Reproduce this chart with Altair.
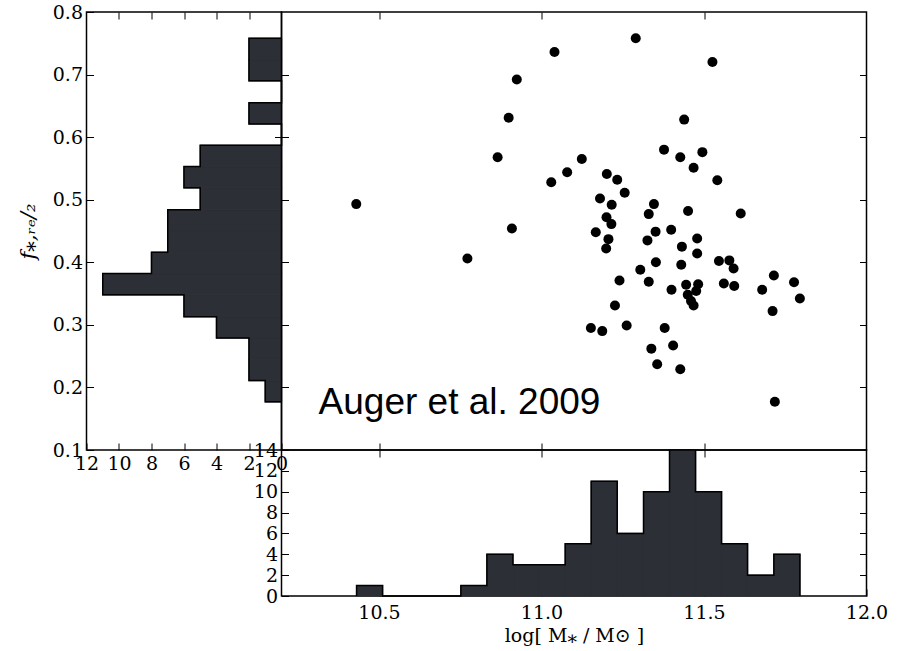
import altair as alt
import pandas as pd

# ---------------- data ----------------
mass = [10.430, 10.772, 10.909, 10.865, 10.899, 10.924, 11.040, 11.290, 11.526, 11.439,
        11.030, 11.079, 11.124, 11.201, 11.233, 11.256, 11.180, 11.216, 11.200, 11.215,
        11.167, 11.206, 11.199, 11.377, 11.427, 11.495, 11.468, 11.541, 11.346, 11.330,
        11.451, 11.613, 11.351, 11.399, 11.326, 11.479, 11.432, 11.479, 11.352, 11.430,
        11.304, 11.546, 11.578, 11.591, 11.240, 11.330, 11.400, 11.445, 11.482, 11.476,
        11.561, 11.593, 11.450, 11.460, 11.468, 11.679, 11.715, 11.777, 11.795, 11.711,
        11.226, 11.152, 11.187, 11.262, 11.379, 11.338, 11.405, 11.356, 11.427, 11.718]
frac = [0.493, 0.406, 0.454, 0.568, 0.631, 0.692, 0.736, 0.758, 0.720, 0.628,
        0.528, 0.544, 0.565, 0.541, 0.532, 0.511, 0.502, 0.492, 0.472, 0.461,
        0.448, 0.437, 0.422, 0.580, 0.568, 0.576, 0.551, 0.531, 0.493, 0.477,
        0.482, 0.478, 0.449, 0.452, 0.435, 0.438, 0.425, 0.414, 0.400, 0.396,
        0.388, 0.402, 0.403, 0.390, 0.371, 0.369, 0.356, 0.364, 0.365, 0.354,
        0.366, 0.362, 0.348, 0.338, 0.331, 0.356, 0.379, 0.368, 0.342, 0.322,
        0.331, 0.295, 0.290, 0.299, 0.295, 0.262, 0.267, 0.237, 0.229, 0.177]

mass_edges = [10.431, 10.511, 10.591, 10.672, 10.752, 10.832, 10.912, 10.993, 11.073,
              11.153, 11.233, 11.314, 11.394, 11.474, 11.554, 11.634, 11.715, 11.795]
mass_counts = [1, 0, 0, 0, 1, 4, 3, 3, 5, 11, 6, 10, 14, 10, 5, 2, 4]

frac_edges = [0.177, 0.211, 0.245, 0.279, 0.313, 0.348, 0.382, 0.416, 0.450,
              0.484, 0.519, 0.553, 0.587, 0.621, 0.655, 0.690, 0.724, 0.758]
frac_counts = [1, 2, 2, 4, 6, 11, 8, 7, 7, 5, 6, 5, 0, 2, 0, 2, 2]

mass_ticks = [10.5, 11.0, 11.5, 12.0]
frac_ticks = [0.1, 0.2, 0.3, 0.4, 0.5, 0.6, 0.7, 0.8]
count_ticks_left = [0, 2, 4, 6, 8, 10, 12]
count_ticks_bottom = [0, 2, 4, 6, 8, 10, 12, 14]

label_text = "Auger et al. 2009"
x_title = "log[ M⁎ / M⊙ ]"
y_title = "f⁎,ᵣₑ/₂"

FILL = "#2c2f35"
SERIF = "DejaVu Serif"

# ---------------- tables ----------------
scatter_df = pd.DataFrame({"mass": mass, "frac": frac})
label_df = pd.DataFrame({"mass": [10.314], "frac": [0.1575], "t": [label_text]})

mhist = pd.DataFrame({"lo": mass_edges[:-1], "hi": mass_edges[1:], "c": mass_counts,
                      "zero": [0] * len(mass_counts)})
fhist = pd.DataFrame({"lo": frac_edges[:-1], "hi": frac_edges[1:], "c": frac_counts,
                      "zero": [0] * len(frac_counts)})

# outlines (stepfilled style) built from edges and counts
mo_x, mo_y = [mass_edges[0]], [0]
for i, c in enumerate(mass_counts):
    mo_x += [mass_edges[i], mass_edges[i + 1]]
    mo_y += [c, c]
mo_x.append(mass_edges[-1]); mo_y.append(0)
m_outline = pd.DataFrame({"x": mo_x, "c": mo_y, "i": list(range(len(mo_x)))})

fo_y, fo_c = [frac_edges[0]], [0]
for i, c in enumerate(frac_counts):
    fo_y += [frac_edges[i], frac_edges[i + 1]]
    fo_c += [c, c]
fo_y.append(frac_edges[-1]); fo_c.append(0)
f_outline = pd.DataFrame({"y": fo_y, "c": fo_c, "i": list(range(len(fo_y)))})


def ax(orient, labels=False, values=None, fmt=None, title=None, **extra):
    kw = dict(orient=orient, labels=labels, domain=False, grid=False, ticks=True,
              tickColor="black", tickWidth=1, tickSize=7, offset=-7,
              labelFont=SERIF, labelFontSize=19, labelColor="black",
              labelFlush=False, labelOverlap=False, labelPadding=5,
              titleFont=SERIF, titleFontWeight="normal", titleColor="black",
              title=title)
    if values is not None:
        kw["values"] = values
    if fmt is not None:
        kw["format"] = fmt
    kw.update(extra)
    return alt.Axis(**kw)


xs_mass = alt.Scale(domain=[10.2, 12.0], nice=False, zero=False)
ys_frac = alt.Scale(domain=[0.1, 0.8], nice=False, zero=False)
cs_left = alt.Scale(domain=[0, 12], nice=False, reverse=True)
cs_bottom = alt.Scale(domain=[0, 14], nice=False)

W_MAIN, H_MAIN, W_SIDE, H_BOT = 585, 438, 195, 146

# ---------------- scatter panel ----------------
pts = alt.Chart(scatter_df).mark_circle(size=100, color="black", opacity=1).encode(
    x=alt.X("mass:Q", scale=xs_mass, axis=ax("bottom", values=[10.5, 11.0, 11.5])),
    y=alt.Y("frac:Q", scale=ys_frac, axis=ax("left", values=frac_ticks[1:-1])),
)
pts2 = alt.Chart(scatter_df).mark_circle(opacity=0).encode(
    x=alt.X("mass:Q", scale=xs_mass, axis=ax("top", values=[10.5, 11.0, 11.5])),
    y=alt.Y("frac:Q", scale=ys_frac, axis=ax("right", values=frac_ticks[1:-1])),
)
txt = alt.Chart(label_df).mark_text(align="left", baseline="alphabetic",
                                    font="Liberation Sans", fontSize=37,
                                    color="black").encode(
    x=alt.X("mass:Q", scale=xs_mass, axis=None),
    y=alt.Y("frac:Q", scale=ys_frac, axis=None),
    text="t:N",
)
scatter = alt.layer(pts, pts2, txt).resolve_axis(x="independent", y="independent").properties(
    width=W_MAIN, height=H_MAIN)

# ---------------- left histogram ----------------
lbars = alt.Chart(fhist).mark_rect(color=FILL, stroke=FILL, strokeWidth=1.2).encode(
    x=alt.X("c:Q", scale=cs_left,
            axis=ax("bottom", labels=True, values=count_ticks_left, fmt="d", labelPadding=4)),
    x2="zero:Q",
    y=alt.Y("lo:Q", scale=ys_frac,
            axis=ax("left", labels=True, values=frac_ticks, fmt=".1f", title=y_title,
                    labelPadding=4, titleFontSize=21, titleFontStyle="italic",
                    titlePadding=14)),
    y2="hi:Q",
)
lline = alt.Chart(f_outline).mark_line(color="black", strokeWidth=1.5).encode(
    x=alt.X("c:Q", scale=cs_left, axis=ax("top", values=count_ticks_left[1:-1])),
    y=alt.Y("y:Q", scale=ys_frac, axis=ax("right", values=frac_ticks[1:-1])),
    order="i:Q",
)
left = alt.layer(lbars, lline).resolve_axis(x="independent", y="independent").properties(
    width=W_SIDE, height=H_MAIN)

# ---------------- bottom histogram ----------------
bbars = alt.Chart(mhist).mark_rect(color=FILL, stroke=FILL, strokeWidth=1.2).encode(
    x=alt.X("lo:Q", scale=xs_mass,
            axis=ax("bottom", labels=True, values=mass_ticks, fmt=".1f", title=x_title,
                    labelPadding=7, titleFontSize=19, titlePadding=4)),
    x2="hi:Q",
    y=alt.Y("c:Q", scale=cs_bottom,
            axis=ax("left", labels=True, values=count_ticks_bottom, fmt="d", labelPadding=4)),
    y2="zero:Q",
)
bline = alt.Chart(m_outline).mark_line(color="black", strokeWidth=1.5).encode(
    x=alt.X("x:Q", scale=xs_mass, axis=ax("top", values=[10.5, 11.0, 11.5])),
    y=alt.Y("c:Q", scale=cs_bottom, axis=ax("right", values=count_ticks_bottom[1:-1])),
    order="i:Q",
)
bottom = alt.layer(bbars, bline).resolve_axis(x="independent", y="independent").properties(
    width=W_MAIN, height=H_BOT)

# ---------------- blank corner ----------------
blank = alt.Chart(pd.DataFrame({"a": [0]})).mark_point(opacity=0).encode(
    x=alt.X("a:Q", axis=None), y=alt.Y("a:Q", axis=None)
).properties(width=W_SIDE, height=H_BOT, view=alt.ViewBackground(stroke="transparent"))

chart = alt.concat(left, scatter, blank, bottom, columns=2, spacing=0,
                   bounds="flush", align="each").properties(
    padding={"left": 16.5, "top": 2, "right": 5, "bottom": 5}
).configure_view(stroke="black", strokeWidth=1.5)

chart.save("out.html", embed_options={"renderer": "svg", "actions": False})
